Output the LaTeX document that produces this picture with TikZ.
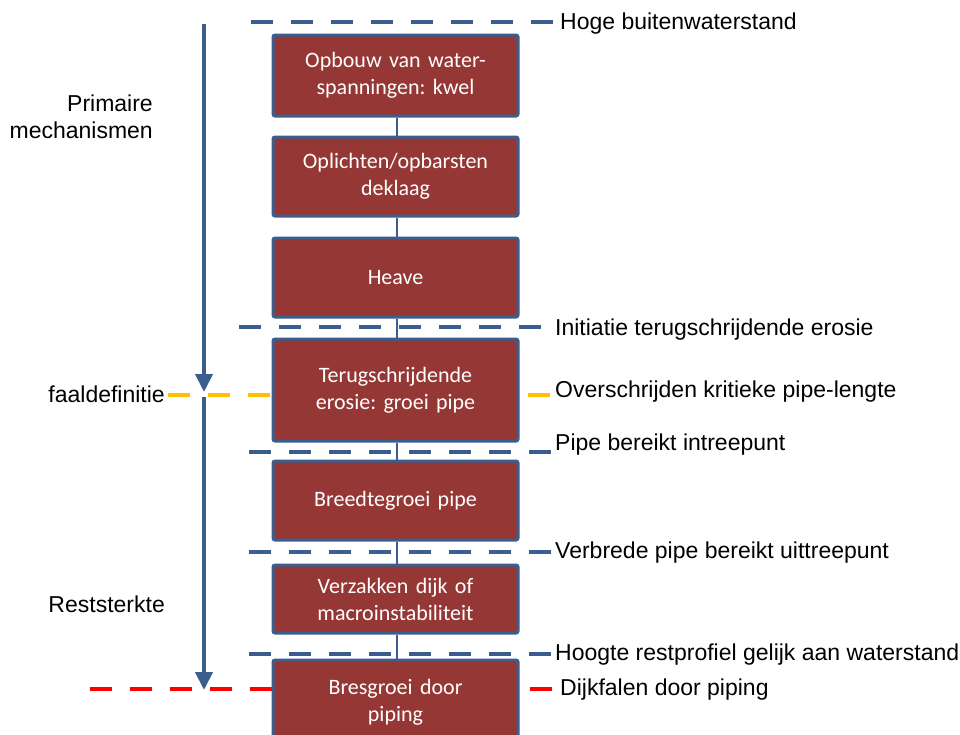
\documentclass[tikz,border=0pt]{standalone}
\usepackage{fontspec}
\setmainfont{Liberation Sans}
\newfontfamily\boxfont{Carlito}
\usetikzlibrary{arrows.meta}
\frenchspacing
\definecolor{myblue}{HTML}{3B5E8E}
\definecolor{myred}{HTML}{953735}
\definecolor{myorange}{HTML}{FFC000}
\definecolor{brightred}{HTML}{FF0000}
\tikzset{
  stepbox/.style={draw=myblue, line width=3pt, fill=myred, rounded corners=2pt,
    minimum width=245pt, text width=240pt, align=center, text=white,
    font=\boxfont\fontsize{22}{27}\selectfont, inner sep=0pt},
  conn/.style={draw=myblue, line width=2.5pt},
  level/.style={line width=4pt, dash pattern=on 22pt off 18pt},
  lbl/.style={anchor=west, inner sep=0pt, font=\fontsize{23}{27}\selectfont},
  leftlbl/.style={anchor=east, inner sep=0pt, align=right, font=\fontsize{23}{27}\selectfont},
  mainarrow/.style={draw=myblue, line width=4pt, -{Triangle[width=17pt,length=18pt]}},
}
\begin{document}
\begin{tikzpicture}[x=1pt,y=-1pt]
\useasboundingbox (0,0) rectangle (960,734);
\clip (0,0) rectangle (960,734);

% level lines (behind boxes)
\coordinate (l1a) at (251,22);  \coordinate (l1b) at (553,22);
\coordinate (l2a) at (239,327); \coordinate (l2b) at (545,327);
\coordinate (l3a) at (168,395); \coordinate (l3b) at (553,395);
\coordinate (l4a) at (249,452); \coordinate (l4b) at (553,452);
\coordinate (l5a) at (249,552); \coordinate (l5b) at (553,552);
\coordinate (l6a) at (249,654); \coordinate (l6b) at (553,654);
\coordinate (l7a) at (90,689);  \coordinate (l7b) at (555,689);
\draw[level, myblue] (l1a) -- (l1b);
\draw[level, myblue] (l2a) -- (l2b);
\draw[level, myorange] (l3a) -- (l3b);
\draw[level, myblue] (l4a) -- (l4b);
\draw[level, myblue] (l5a) -- (l5b);
\draw[level, myblue] (l6a) -- (l6b);
\draw[level, brightred] (l7a) -- (l7b);

% boxes
\node[stepbox, minimum height=81pt] (b1) at (395.5,75.5) {Opbouw van water-\\spanningen: kwel};
\node[stepbox, minimum height=79pt] (b2) at (395.5,176.5) {Oplichten/opbarsten\\deklaag};
\node[stepbox, minimum height=79pt] (b3) at (395.5,277.5) {Heave};
\node[stepbox, minimum height=102pt] (b4) at (395.5,390) {Terugschrijdende\\erosie: groei pipe};
\node[stepbox, minimum height=79pt] (b5) at (395.5,500.5) {Breedtegroei pipe};
\node[stepbox, minimum height=68pt] (b6) at (395.5,599) {Verzakken dijk of\\macroinstabiliteit};
\node[stepbox, minimum height=84pt] (b7) at (395.5,702) {Bresgroei door\\piping};

% connectors
\foreach \a/\b in {b1/b2,b2/b3,b3/b4,b4/b5,b5/b6,b6/b7}
  \draw[conn] ([xshift=1.5pt]\a.south) -- ([xshift=1.5pt]\b.north);

% right labels
\node[lbl] (t1) at (560,24) {Hoge buitenwaterstand};
\node[lbl] (t2) at (555,330) {Initiatie terugschrijdende erosie};
\node[lbl] (t3) at (555,392) {Overschrijden kritieke pipe-lengte};
\node[lbl] (t4) at (555,445) {Pipe bereikt intreepunt};
\node[lbl] (t5) at (555,553) {Verbrede pipe bereikt uittreepunt};
\node[lbl] (t6) at (555,655) {Hoogte restprofiel gelijk aan waterstand};
\node[lbl] (t7) at (560,690) {Dijkfalen door piping};

% left labels
\node[leftlbl] (pm) at (153,117) {Primaire\\mechanismen};
\node[leftlbl] (fd) at (165,394) {faaldefinitie};
\node[leftlbl] (rs) at (165,604) {Reststerkte};

% main arrows
\coordinate (a1s) at (204,24);
\coordinate (a1e) at (204,392);
\coordinate (a2s) at (204,397);
\coordinate (a2e) at (204,690);
\draw[mainarrow] (a1s) -- (a1e);
\draw[mainarrow] (a2s) -- (a2e);
\end{tikzpicture}
\end{document}
